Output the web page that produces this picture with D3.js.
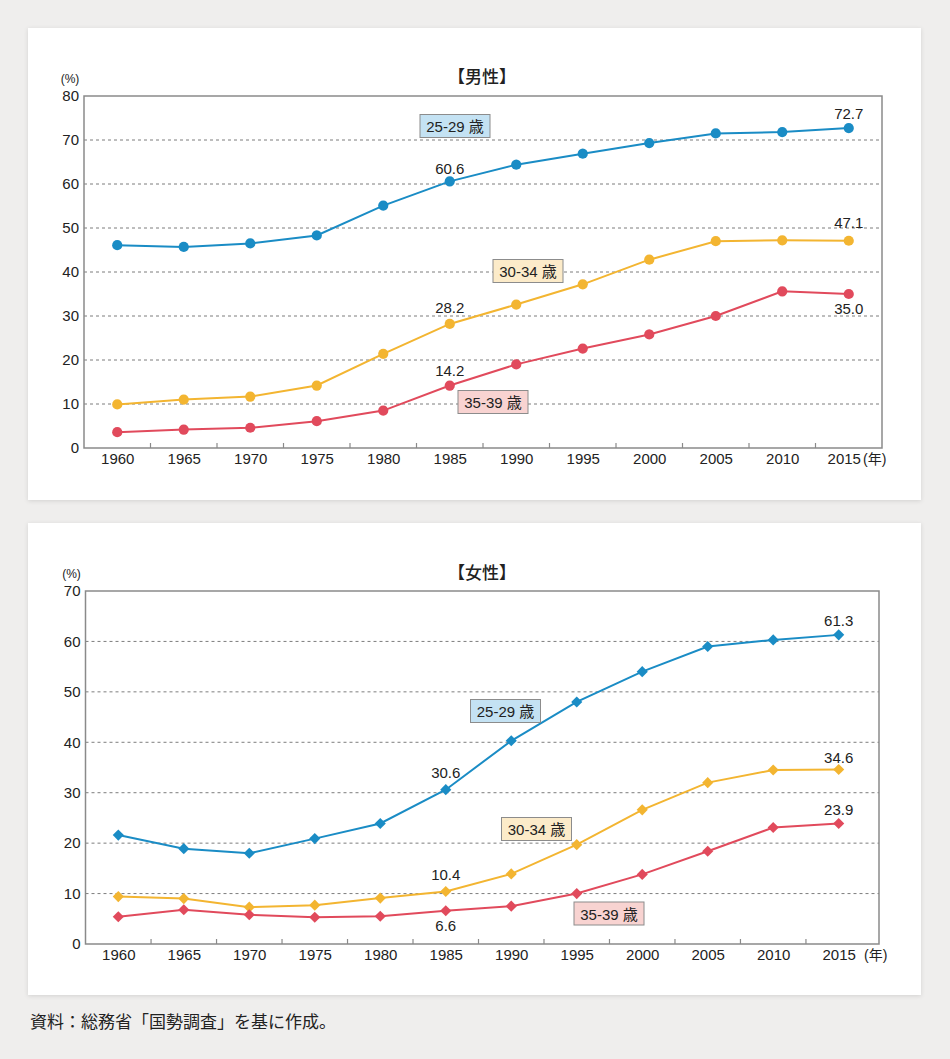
<!DOCTYPE html>
<html>
<head>
<meta charset="utf-8">
<script src="https://cdn.jsdelivr.net/npm/d3@7"></script>
<style>
  html, body { margin: 0; padding: 0; background: #efeeed; }
  svg { display: block; }
  text { font-family: "Liberation Sans", "Noto Sans CJK JP", sans-serif; fill: #222; }
</style>
</head>
<body>
<svg id="chart" width="950" height="1059"></svg>
<script>
// ---------- DATA ----------
const years = [1960, 1965, 1970, 1975, 1980, 1985, 1990, 1995, 2000, 2005, 2010, 2015];

const seriesNames = ["25-29 歳", "30-34 歳", "35-39 歳"];

const male25_29 = [46.1, 45.7, 46.5, 48.3, 55.1, 60.6, 64.4, 66.9, 69.3, 71.5, 71.8, 72.7];
const male30_34 = [9.9, 11.0, 11.7, 14.2, 21.4, 28.2, 32.6, 37.2, 42.8, 47.0, 47.2, 47.1];
const male35_39 = [3.6, 4.2, 4.6, 6.1, 8.5, 14.2, 19.0, 22.6, 25.8, 30.0, 35.6, 35.0];

const female25_29 = [21.6, 18.9, 18.0, 20.9, 23.9, 30.6, 40.3, 48.0, 54.0, 59.0, 60.3, 61.3];
const female30_34 = [9.4, 9.0, 7.3, 7.7, 9.1, 10.4, 13.9, 19.7, 26.6, 32.0, 34.5, 34.6];
const female35_39 = [5.4, 6.8, 5.8, 5.3, 5.5, 6.6, 7.5, 10.0, 13.8, 18.4, 23.1, 23.9];

const maleYTicks = [0, 10, 20, 30, 40, 50, 60, 70, 80];
const femaleYTicks = [0, 10, 20, 30, 40, 50, 60, 70];

const maleTitle = "【男性】";
const femaleTitle = "【女性】";
const unitY = "(%)";
const unitX = "(年)";
const sourceNote = "資料：総務省「国勢調査」を基に作成。";

// value labels shown on the chart: [series index, year]
const maleValueLabels = [[0, 1985], [0, 2015], [1, 1985], [1, 2015], [2, 1985], [2, 2015]];
const femaleValueLabels = [[0, 1985], [0, 2015], [1, 1985], [1, 2015], [2, 1985], [2, 2015]];

// ---------- STYLE / LAYOUT ----------
const colors = ["#1a8cc5", "#f3b531", "#e14a5c"];
const boxFills = ["#c4e2f3", "#fcebc9", "#f8d3d1"];

const svg = d3.select("#chart");
svg.append("rect").attr("width", 950).attr("height", 1059).attr("fill", "#efeeed");

const defs = svg.append("defs");
const f = defs.append("filter").attr("id", "shadow").attr("x", "-5%").attr("y", "-5%").attr("width", "110%").attr("height", "110%");
f.append("feDropShadow").attr("dx", 0).attr("dy", 1).attr("stdDeviation", 2).attr("flood-color", "#000").attr("flood-opacity", 0.12);

function drawPanel(cfg) {
  const g = svg.append("g");
  // panel
  g.append("rect")
    .attr("x", cfg.panel[0]).attr("y", cfg.panel[1])
    .attr("width", cfg.panel[2]).attr("height", cfg.panel[3])
    .attr("fill", "#fff").attr("filter", "url(#shadow)");

  const x = d3.scalePoint().domain(years).range([cfg.xFirst, cfg.xLast]);
  const step = x.step();
  const y = d3.scaleLinear().domain([0, cfg.yMax]).range([cfg.bottom, cfg.top]);

  // grid lines
  g.append("g").selectAll("line")
    .data(cfg.yTicks.filter(t => t > 0 && t < cfg.yMax))
    .join("line")
    .attr("x1", cfg.left).attr("x2", cfg.right)
    .attr("y1", d => y(d)).attr("y2", d => y(d))
    .attr("stroke", "#7d7d7d").attr("stroke-width", 1)
    .attr("stroke-dasharray", "3,3");

  // frame
  g.append("rect")
    .attr("x", cfg.left).attr("y", cfg.top)
    .attr("width", cfg.right - cfg.left).attr("height", cfg.bottom - cfg.top)
    .attr("fill", "none").attr("stroke", "#8a8a8a").attr("stroke-width", 1.5);

  // inward x ticks between categories
  g.append("g").selectAll("line")
    .data(years.slice(1))
    .join("line")
    .attr("x1", d => x(d) - step / 2).attr("x2", d => x(d) - step / 2)
    .attr("y1", cfg.bottom).attr("y2", cfg.bottom - 5)
    .attr("stroke", "#8a8a8a").attr("stroke-width", 1.2);

  // y axis labels
  const yAxis = g.append("g")
    .attr("transform", `translate(${cfg.left},0)`)
    .call(d3.axisLeft(y).tickValues(cfg.yTicks).tickSize(0).tickPadding(5).tickFormat(d3.format("d")));
  yAxis.select(".domain").remove();
  yAxis.selectAll("text").attr("font-size", 15).attr("fill", "#222")
    .attr("font-family", "Liberation Sans, sans-serif");

  // x axis labels
  const xAxis = g.append("g")
    .attr("transform", `translate(0,${cfg.bottom})`)
    .call(d3.axisBottom(x).tickSize(0).tickPadding(5));
  xAxis.select(".domain").remove();
  xAxis.selectAll("text").attr("font-size", 15).attr("fill", "#222")
    .attr("font-family", "Liberation Sans, sans-serif")
    .attr("dx", d => d === 2015 ? cfg.lastDx : 0);

  // units
  g.append("text").attr("x", cfg.left - 14).attr("y", cfg.top - 17)
    .attr("text-anchor", "middle").attr("dominant-baseline", "central")
    .attr("font-size", 12).text(unitY);
  g.append("text").attr("x", cfg.unitXx).attr("y", cfg.bottom + 11)
    .attr("dominant-baseline", "central")
    .attr("font-size", 14).text(unitX);

  // title
  g.append("text").attr("x", cfg.titleX).attr("y", cfg.titleY)
    .attr("text-anchor", "middle").attr("dominant-baseline", "central")
    .attr("font-size", 17).attr("font-weight", 500)
    .attr("font-family", "Noto Sans CJK JP, sans-serif")
    .text(cfg.title);

  // lines + markers
  const line = d3.line().x((d, i) => x(years[i])).y(d => y(d));
  cfg.series.forEach((vals, si) => {
    g.append("path").datum(vals)
      .attr("d", line).attr("fill", "none")
      .attr("stroke", colors[si]).attr("stroke-width", 2);
    const sym = d3.symbol().type(cfg.marker === "diamond" ? d3.symbolSquare : d3.symbolCircle)
      .size(cfg.marker === "diamond" ? 62 : 82);
    g.append("g").selectAll("path")
      .data(vals)
      .join("path")
      .attr("d", sym)
      .attr("transform", (d, i) => `translate(${x(years[i])},${y(d)})` + (cfg.marker === "diamond" ? " rotate(45)" : ""))
      .attr("fill", colors[si]);
  });

  // value labels
  cfg.valueLabels.forEach(([si, yr], k) => {
    const v = cfg.series[si][years.indexOf(yr)];
    g.append("text")
      .attr("x", x(yr)).attr("y", y(v) + cfg.labelDy[k])
      .attr("text-anchor", "middle").attr("dominant-baseline", "central")
      .attr("font-size", 15).text(v.toFixed(1));
  });

  // series name boxes
  cfg.boxes.forEach(([bx, by], si) => {
    const bw = 70, bh = 23;
    g.append("rect").attr("x", bx).attr("y", by).attr("width", bw).attr("height", bh)
      .attr("fill", boxFills[si]).attr("stroke", "#8c8c8c").attr("stroke-width", 1);
    g.append("text").attr("x", bx + bw / 2).attr("y", by + bh / 2 + 0.5)
      .attr("text-anchor", "middle").attr("dominant-baseline", "central")
      .attr("font-size", 15).text(seriesNames[si]);
  });
}

drawPanel({
  panel: [28, 28, 893, 472],
  left: 84, right: 882, top: 96, bottom: 448,
  xFirst: 117.25, xLast: 848.75,
  yMax: 80, yTicks: maleYTicks,
  title: maleTitle, titleX: 482, titleY: 77,
  series: [male25_29, male30_34, male35_39],
  marker: "circle",
  valueLabels: maleValueLabels,
  labelDy: [-13, -15, -16, -18, -15, 14],
  boxes: [[420, 114.5], [493, 259.5], [458, 390.5]],
  lastDx: -5, unitXx: 863
});

drawPanel({
  panel: [28, 523, 893, 472],
  left: 85.5, right: 879, top: 591, bottom: 944,
  xFirst: 118.3, xLast: 838.7,
  yMax: 70, yTicks: femaleYTicks,
  title: femaleTitle, titleX: 482, titleY: 573,
  series: [female25_29, female30_34, female35_39],
  marker: "diamond",
  valueLabels: femaleValueLabels,
  labelDy: [-17, -14, -17.5, -12, 15, -13.5],
  boxes: [[470.5, 699.5], [501.5, 817.5], [574, 902]],
  lastDx: 0, unitXx: 864
});

// source note
svg.append("text").attr("x", 30).attr("y", 1022)
  .attr("dominant-baseline", "central")
  .attr("font-size", 17)
  .attr("font-family", "Noto Sans CJK JP, sans-serif")
  .text(sourceNote);
</script>
</body>
</html>
